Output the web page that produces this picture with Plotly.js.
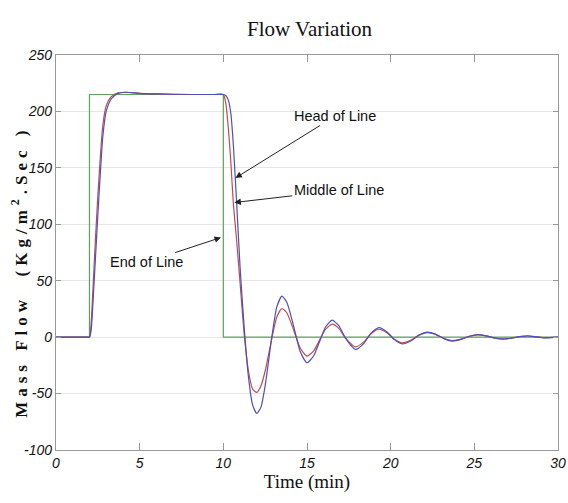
<!DOCTYPE html>
<html>
<head>
<meta charset="utf-8">
<script src="https://cdn.plot.ly/plotly-3.0.1.min.js"></script>
<style>
  html, body { margin: 0; padding: 0; background: #fff; }
  #chart { width: 568px; height: 503px; }
  .xtick text, .ytick text { font-style: italic !important; }
</style>
</head>
<body>
<div id="chart"></div>
<script>
// ---- data ----
var stepTime   = [0, 2, 2, 10, 10, 30];
var stepFlow   = [0, 0, 215, 215, 0, 0];

var respTime = [0, 1, 1.9, 2, 2.1, 2.2, 2.35, 2.5, 2.65, 2.8, 3.0, 3.3, 3.7, 4.2, 5, 6, 8, 9.5, 10,
  10.15, 10.3, 10.45, 10.6, 10.8, 11.0, 11.25, 11.5, 11.75, 12.0, 12.25, 12.5, 12.9, 13.2,
  13.5, 13.8, 14.2, 14.6, 15.0, 15.4, 15.8, 16.1, 16.5, 16.9, 17.3, 17.9, 18.4, 18.8,
  19.3, 19.8, 20.2, 20.7, 21.2, 21.7, 22.2, 22.7, 23.2, 23.7, 24.2, 24.7, 25.2, 25.7,
  26.2, 26.7, 27.2, 27.7, 28.2, 28.7, 29.2, 30];

var middleFlow = [0, 0, 0, 0, 12, 40, 85, 125, 160, 188, 205, 213, 216.5, 217, 216, 215.5, 215, 215, 215,
  207, 185, 155, 118, 85, 48, 2, -30, -46, -49, -43, -30, -1, 18,
  25.4, 21.4, 6.4, -9.8, -16.8, -12.1, -1.2, 6.8, 11.5, 7.8, -0.8, -8.6, -4.2, 2.6,
  7, 3.6, -1.6, -5, -2.75, 1.75, 4, 2.25, -1.25, -3, -1.75, 0.75, 2, 1.1,
  -0.6, -1.5, -0.9, 0.4, 1, 0.3, -0.5, 0];

var headFlow = [0, 0, 0, 0, 6, 28, 68, 108, 145, 178, 200, 211, 216, 217, 216, 215.5, 215, 215, 215,
  214, 210, 198, 170, 118, 62, 8, -35, -60, -67.6, -62, -43, 0.5, 27,
  36.3, 30.7, 9.8, -13, -22.7, -16.5, -2, 8.8, 15, 10.2, -0.8, -10.9, -5.5, 3.1,
  8.5, 4.4, -1.9, -6, -3.4, 1.9, 4.5, 2.5, -1.5, -3.5, -2, 0.8, 2.2, 1.1,
  -0.8, -1.8, -1, 0.4, 1.1, 0.3, -0.6, 0];

var xTicks = [0, 5, 10, 15, 20, 25, 30];
var yTicks = [-100, -50, 0, 50, 100, 150, 200, 250];

var labels     = ["Head of Line", "Middle of Line", "End of Line"];
var labelTip   = [[10.72, 141], [10.66, 119.3], [9.86, 88.3]];
var labelText  = [[16.7, 196], [16.9, 130], [5.4, 66.5]];

// ---- traces ----
var traces = [
  { x: stepTime, y: stepFlow, mode: 'lines', name: 'End of Line',
    line: { color: '#5f9f5f', width: 1.2 }, hoverinfo: 'skip' },
  { x: respTime, y: middleFlow, mode: 'lines', name: 'Middle of Line',
    line: { color: '#c04c4c', width: 1.2, shape: 'spline', smoothing: 0.6 } },
  { x: respTime, y: headFlow, mode: 'lines', name: 'Head of Line',
    line: { color: '#4f4fb8', width: 1.2, shape: 'spline', smoothing: 0.6 } }
];

var sansFont = '"Liberation Sans", Arial, sans-serif';
var serifFont = '"Liberation Serif", "Times New Roman", serif';
var annFont = { family: sansFont, size: 14.5, color: '#111' };
var annotations = labels.map(function (txt, i) {
  return {
    x: labelTip[i][0], y: labelTip[i][1], xref: 'x', yref: 'y',
    ax: labelText[i][0], ay: labelText[i][1], axref: 'x', ayref: 'y',
    text: txt, showarrow: true, arrowhead: 2, arrowsize: 1.3, arrowwidth: 1,
    arrowcolor: '#222', font: annFont, standoff: 0, startstandoff: 0
  };
});
// y-axis title placed as a rotated label (reference centres it a bit below the plot middle)
annotations.push({
  text: 'Mass Flow  (Kg/m<sup>2</sup>.Sec )', textangle: -90,
  xref: 'paper', yref: 'paper', x: -0.072, y: 0.452,
  xanchor: 'center', yanchor: 'middle', showarrow: false,
  font: { family: serifFont, size: 17, color: '#111', weight: 'bold' }
});

var tickFont = { family: sansFont, size: 14, color: '#111', style: 'italic' };

var layout = {
  width: 568, height: 503,
  margin: { l: 56, r: 10, t: 55, b: 53 },
  paper_bgcolor: '#ffffff', plot_bgcolor: '#ffffff',
  showlegend: false,
  title: { text: 'Flow Variation', x: 0.545, xanchor: 'center', y: 0.944, yanchor: 'middle',
    font: { family: serifFont, size: 21, color: '#111' } },
  xaxis: {
    range: [0, 30], tickvals: xTicks, ticktext: xTicks.map(String),
    ticks: 'inside', ticklen: 7, tickcolor: '#999', tickwidth: 1,
    showline: true, linecolor: '#999', linewidth: 1.2, mirror: 'ticks',
    showgrid: false, zeroline: false, tickfont: tickFont,
    title: { text: 'Time (min)', standoff: 4,
      font: { family: serifFont, size: 19, color: '#111' } }
  },
  yaxis: {
    range: [-100, 250], tickvals: yTicks, ticktext: yTicks.map(String),
    ticks: 'inside', ticklen: 5, tickcolor: '#999', tickwidth: 1,
    showline: true, linecolor: '#999', linewidth: 1.2, mirror: 'ticks',
    showgrid: true, gridcolor: '#e6e6e6', gridwidth: 1, zeroline: false,
    tickfont: tickFont
  },
  annotations: annotations
};

Plotly.newPlot('chart', traces, layout, { staticPlot: true, displayModeBar: false }).then(function () {
  var t = document.querySelectorAll('.annotation-text');
  if (t.length > 3) { t[3].style.letterSpacing = '5px'; }
});
</script>
</body>
</html>
